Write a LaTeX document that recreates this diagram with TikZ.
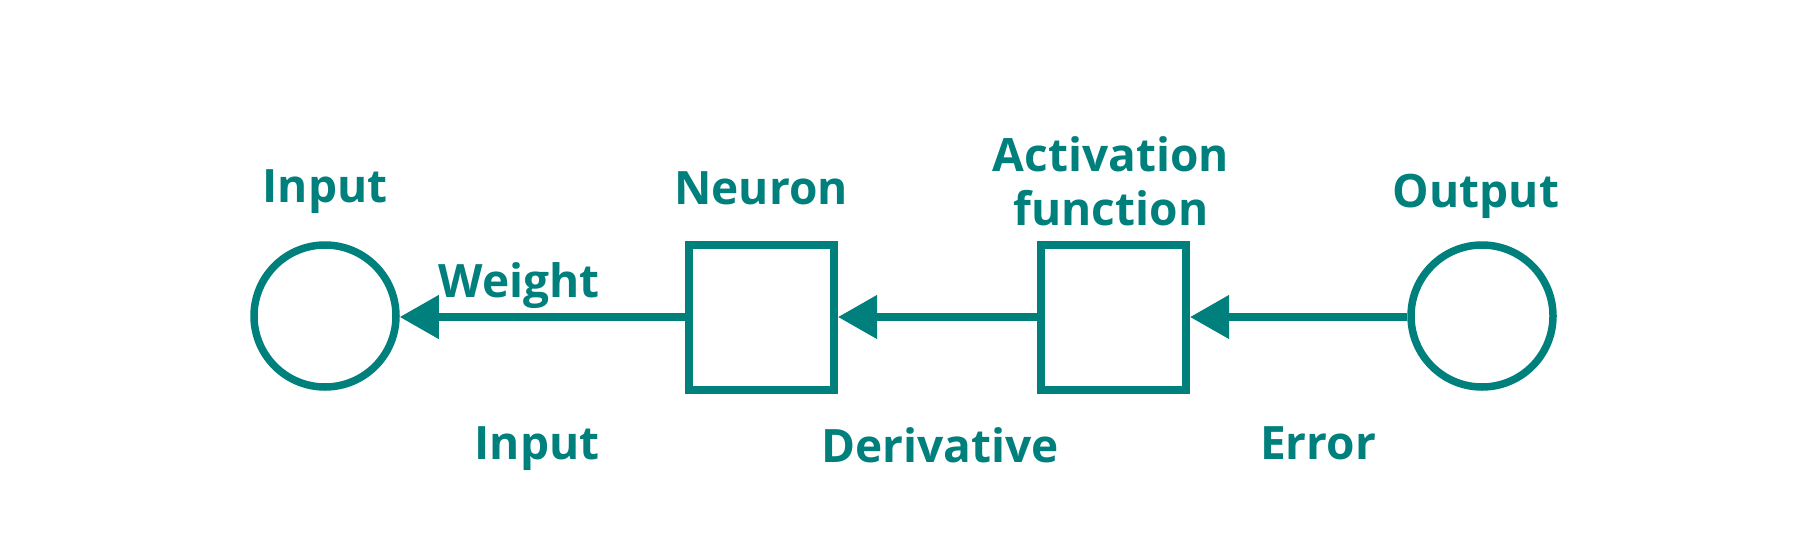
\documentclass[tikz,border=0pt]{standalone}
\usepackage{fontspec}
\setmainfont{Open Sans}
\usetikzlibrary{arrows.meta}
\definecolor{tealc}{RGB}{0,128,124}
\begin{document}
\begin{tikzpicture}[x=1pt,y=-1pt,
  lbl/.style={font=\fontsize{46}{54}\selectfont\bfseries, text=tealc, inner sep=0pt, anchor=base},
  circ/.style={circle, draw=tealc, line width=7.5pt, minimum size=142pt, inner sep=0pt},
  sq/.style={rectangle, draw=tealc, line width=8pt, minimum size=145pt, inner sep=0pt},
  conn/.style={draw=tealc, line width=7.5pt, -{Triangle[length=39pt,width=42pt]}}]
\useasboundingbox[fill=white] (0,0) rectangle (1814,533);
% shapes
\node[circ] (input) at (325,316) {};
\node[sq] (neuron) at (761.5,317) {};
\node[sq] (act) at (1113.5,317) {};
\node[circ] (output) at (1482,316) {};
% connectors
\draw[conn] (neuron.west) -- (input.east |- neuron.west);
\draw[conn] (act.west) -- (neuron.east);
\draw[conn] (output.west |- act.east) -- (act.east);
% labels
\node[lbl] (linput) at (325,202) {Input};
\node[lbl] (lneuron) at (761,204) {Neuron};
\node[lbl] (lact1) at (1111,171.5) {Activation};
\node[lbl] (lact2) at (1111,225) {function};
\node[lbl] (loutput) at (1476,207) {Output};
\node[lbl] (lweight) at (519,297) {Weight};
\node[lbl] (linput2) at (537,459) {Input};
\node[lbl] (lderiv) at (940,462) {Derivative};
\node[lbl] (lerror) at (1318,459) {Error};
\end{tikzpicture}
\end{document}
